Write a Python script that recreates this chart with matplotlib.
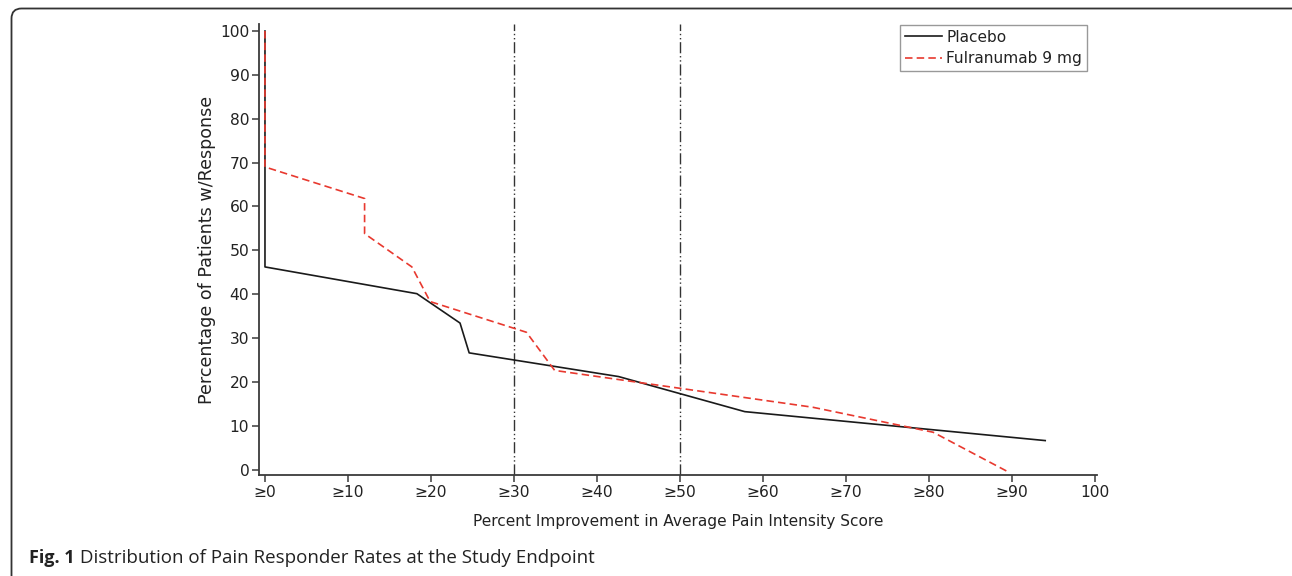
import matplotlib
matplotlib.use("Agg")
import matplotlib.pyplot as plt
from matplotlib.patches import FancyBboxPatch
from matplotlib.transforms import IdentityTransform

# ---- data ----
placebo_x = [0, 0, 18.3, 23.5, 24.6, 42.6, 57.8, 94.0]
placebo_y = [100, 46.2, 40.1, 33.4, 26.6, 21.2, 13.2, 6.6]
fulra_x = [0, 0, 12.0, 12.0, 17.7, 19.9, 31.5, 34.9, 66.0, 80.5, 89.6]
fulra_y = [100, 69.0, 61.8, 53.8, 46.2, 38.3, 31.3, 22.6, 14.2, 8.5, -0.6]
ref_lines = [30, 50]
x_ticks = [0, 10, 20, 30, 40, 50, 60, 70, 80, 90, 100]
x_ticklabels = ["≥0", "≥10", "≥20", "≥30", "≥40", "≥50", "≥60", "≥70", "≥80", "≥90", "100"]
y_ticks = [0, 10, 20, 30, 40, 50, 60, 70, 80, 90, 100]
series_labels = ["Placebo", "Fulranumab 9 mg"]
x_label = "Percent Improvement in Average Pain Intensity Score"
y_label = "Percentage of Patients w/Response"
caption_bold = "Fig. 1"
caption_text = " Distribution of Pain Responder Rates at the Study Endpoint"

W, H = 1292, 576
plt.rcParams['font.family'] = ['DejaVu Sans']
fig = plt.figure(figsize=(W / 100, H / 100), dpi=100)
txt_col = "#222222"
ax_col = "#3a3a3a"

L, R, T, B = 259, 1097, 24, 475
ax = fig.add_axes([L / W, 1 - B / H, (R - L) / W, (B - T) / H])

ax.plot(placebo_x, placebo_y, color="#1a1a1a", lw=1.2, label=series_labels[0], zorder=3)
ax.plot(fulra_x, fulra_y, color="#e8392f", lw=1.2, ls=(0, (4.5, 2.5)), label=series_labels[1], zorder=4)
for xv in ref_lines:
    ax.axvline(xv, color="#333333", lw=1.0, ls=(0, (8, 2, 1, 2, 1, 2)), zorder=2)

ax.set_xlim(-0.72, 100.24)
ax.set_ylim(-1.25, 101.6)
ax.set_xticks(x_ticks)
ax.set_xticklabels(x_ticklabels)
ax.set_yticks(y_ticks)
for s in ["top", "right"]:
    ax.spines[s].set_visible(False)
for s in ["left", "bottom"]:
    ax.spines[s].set_color(ax_col)
    ax.spines[s].set_linewidth(1.3)
ax.tick_params(axis="both", direction="out", length=5, width=1.1, color=ax_col,
               labelsize=11.2, labelcolor=txt_col, pad=2)
ax.set_xlabel(x_label, fontsize=11.1, color=txt_col, labelpad=10)
ax.set_ylabel(y_label, fontsize=12.6, color=txt_col, labelpad=3)

leg = ax.legend(loc="upper right", bbox_to_anchor=(0.988, 0.998), fontsize=11.1,
                frameon=True, fancybox=False, shadow=False, handlelength=2.4,
                handletextpad=0.3, labelspacing=0.45, borderpad=0.3, borderaxespad=0)
leg.get_frame().set_edgecolor("#808080")
leg.get_frame().set_linewidth(1.0)
for t in leg.get_texts():
    t.set_color(txt_col)

# caption
cap_fam = ["Open Sans", "DejaVu Sans"]
t1 = fig.text(29 / W, 1 - 563 / H, caption_bold, fontsize=13, fontweight="bold",
              fontstretch="normal", family=cap_fam, color=txt_col, va="baseline", ha="left")
fig.canvas.draw()
bb = t1.get_window_extent()
fig.text(bb.x1 / W, 1 - 563 / H, caption_text, fontsize=13.5, fontstretch="normal",
         family=cap_fam, color=txt_col, va="baseline", ha="left")

# rounded frame
frame = FancyBboxPatch((11.5, -30), W - 11.5 + 30, (H - 8.5) + 30,
                       boxstyle="round,pad=0,rounding_size=10",
                       transform=IdentityTransform(), fill=False,
                       edgecolor="#333333", linewidth=1.3)
fig.patches.append(frame)

fig.savefig("out.png", dpi=100)
